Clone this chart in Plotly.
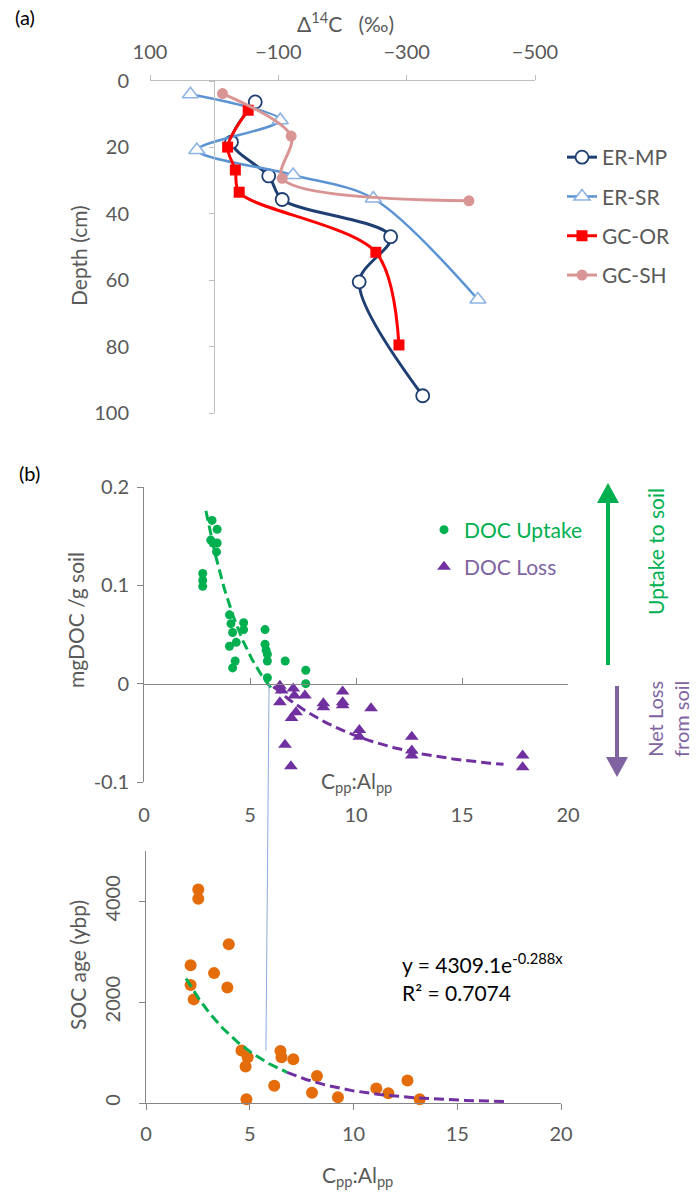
import numpy as np
import plotly.graph_objects as go

W, H = 698, 1194
FONT = "Lato"
TXT = "#595959"
AX_LIGHT = "#BFBFBF"
AX_DARK = "#868686"
GREEN = "#00B050"
PURPLE = "#7030A0"
PURPLE_TXT = "#8064A2"
ORANGE = "#E46C0A"

# ---------------- (a) radiocarbon depth profiles ----------------
er_mp_d14c = [-64, -27, -85, -106, -275, -226, -325]
er_mp_depth = [6.3, 18.4, 28.6, 35.7, 46.9, 60.5, 94.8]
er_sr_d14c = [37, -103, 27, -123, -248, -411]
er_sr_depth = [4.0, 11.8, 20.8, 28.3, 35.4, 65.8]
gc_or_d14c = [-53, -21, -33, -39, -252, -288]
gc_or_depth = [8.8, 19.9, 26.8, 33.5, 51.6, 79.5]
gc_sh_d14c = [-13, -120, -106, -397]
gc_sh_depth = [3.8, 16.6, 29.3, 36.1]
d14c_ticks = [100, -100, -300, -500]
depth_ticks = [0, 20, 40, 60, 80, 100]

# ---------------- (b) DOC exchange vs Cpp:Alpp ----------------
uptake_ratio = [3.21, 3.45, 3.15, 3.26, 3.45, 3.42, 2.77, 2.77, 2.77, 4.03, 4.10,
                4.18, 4.35, 4.03, 4.30, 4.18, 4.70, 4.70, 5.71, 5.71, 5.76, 5.82,
                5.82, 5.82, 6.66, 7.63, 7.63]
uptake_doc = [0.166, 0.157, 0.146, 0.143, 0.143, 0.134, 0.112, 0.105, 0.099, 0.070,
              0.061, 0.052, 0.042, 0.038, 0.023, 0.016, 0.062, 0.055, 0.055, 0.040,
              0.034, 0.030, 0.023, 0.006, 0.023, 0.0136, 0.0]
loss_ratio = [6.41, 6.49, 6.41, 7.04, 7.09, 7.59, 6.96, 7.17, 6.65, 6.93, 8.46, 8.46,
              9.37, 9.37, 9.37, 10.71, 10.16, 10.16, 12.63, 12.63, 12.63, 17.86, 17.86]
loss_doc = [-0.002, -0.007, -0.019, -0.005, -0.012, -0.012, -0.035, -0.029, -0.062,
            -0.084, -0.020, -0.024, -0.008, -0.019, -0.022, -0.025, -0.047, -0.054,
            -0.054, -0.068, -0.073, -0.073, -0.085]
doc_ticks = [-0.1, 0, 0.1, 0.2]
doc_ticktext = ["-0.1", "0", "0.1", "0.2"]
ratio_ticks = [0, 5, 10, 15, 20]

# ---------------- (b) SOC age vs Cpp:Alpp ----------------
age_ratio = [2.52, 2.52, 3.99, 2.15, 2.15, 2.30, 3.28, 3.92, 4.60, 4.90, 4.80, 4.84,
             6.48, 6.53, 7.10, 6.18, 8.24, 8.00, 9.25, 11.10, 11.68, 12.60, 13.19]
age_ybp = [4237, 4053, 3150, 2735, 2340, 2056, 2577, 2293, 1041, 909, 725, 75,
           1030, 909, 866, 340, 534, 204, 112, 290, 194, 448, 75]
age_ticks = [0, 2000, 4000]

# trend curves y = c + a*exp(-k*x)
UPTAKE_TREND = dict(a=0.93, k=0.47, c=-0.06, x0=2.92, x1=6.0)
LOSS_TREND = dict(a=0.333, k=0.22, c=-0.09, x0=6.1, x1=16.96)
# exponential fit of SOC age
SOC_A, SOC_K, SOC_R2 = 4309.1, 0.288, 0.7074
SOC_X0, SOC_SPLIT, SOC_X1 = 1.93, 6.8, 17.3

# link between uptake/loss threshold and the age curve
LINK_TOP = (5.9, 0.0)
LINK_BOTTOM = (5.78, 1044)

# ---------------- layout boxes (pixels) ----------------
A_X, A_Y = (150, 535), (81, 413)
B_X, B_Y = (144, 568), (487, 782)
C_X, C_Y = (146, 561), (851, 1103)
A_XR, A_YR = [100, -500], [100, 0]
B_XR, B_YR = [0, 20], [-0.1, 0.2]
C_XR, C_YR = [0, 20], [0, 5000]


def dom_x(b):
    return [b[0] / W, b[1] / W]


def dom_y(b):
    return [1 - b[1] / H, 1 - b[0] / H]


def paper_x(v, box, rng):
    f = (v - rng[0]) / (rng[1] - rng[0])
    return (box[0] + f * (box[1] - box[0])) / W


def paper_y(v, box, rng):
    f = (v - rng[0]) / (rng[1] - rng[0])
    return 1 - (box[1] - f * (box[1] - box[0])) / H


def px(xp, yp):
    return xp / W, 1 - yp / H


def trend(p, n=120):
    xs = np.linspace(p["x0"], p["x1"], n)
    return xs, p["c"] + p["a"] * np.exp(-p["k"] * xs)


fig = go.Figure()

# ---- panel (a) ----
profiles = [
    ("ER-MP", er_mp_d14c, er_mp_depth, dict(color="#1F3F73", width=3),
     dict(symbol="circle", size=13, color="white", line=dict(color="#1F3F73", width=1.8))),
    ("ER-SR", er_sr_d14c, er_sr_depth, dict(color="#5B93D3", width=2.5),
     dict(symbol="triangle-up", size=14, color="white", line=dict(color="#8DB3E2", width=1.6))),
    ("GC-OR", gc_or_d14c, gc_or_depth, dict(color="#FF0000", width=3),
     dict(symbol="square", size=11, color="#FF0000")),
    ("GC-SH", gc_sh_d14c, gc_sh_depth, dict(color="#D99594", width=3),
     dict(symbol="circle", size=11, color="#D99594")),
]
for name, xs, ys, ln, mk in profiles:
    fig.add_trace(go.Scatter(
        x=xs, y=ys, name=name, mode="lines+markers",
        line=dict(shape="spline", smoothing=0.9, **ln), marker=mk,
        xaxis="x", yaxis="y", legend="legend", legendgroup=name, cliponaxis=False))

# axis line through zero with depth ticks
fig.add_trace(go.Scatter(x=[None], y=[None], xaxis="x", yaxis="y2",
                         showlegend=False, hoverinfo="skip"))

# ---- panel (b) DOC ----
tx, ty = trend(UPTAKE_TREND)
fig.add_trace(go.Scatter(x=tx, y=ty, mode="lines", showlegend=False, hoverinfo="skip",
                         line=dict(color=GREEN, width=3, dash="10px,5px"),
                         xaxis="x2", yaxis="y3"))
tx, ty = trend(LOSS_TREND)
fig.add_trace(go.Scatter(x=tx, y=ty, mode="lines", showlegend=False, hoverinfo="skip",
                         line=dict(color=PURPLE, width=3, dash="10px,5px"),
                         xaxis="x2", yaxis="y3"))
fig.add_trace(go.Scatter(x=uptake_ratio, y=uptake_doc, mode="markers", name="DOC Uptake",
                         marker=dict(symbol="circle", size=9, color=GREEN),
                         xaxis="x2", yaxis="y3", legend="legend2", cliponaxis=False))
fig.add_trace(go.Scatter(x=loss_ratio, y=loss_doc, mode="markers", name="DOC Loss",
                         marker=dict(symbol="triangle-up", size=12, color=PURPLE),
                         xaxis="x2", yaxis="y3", legend="legend3", cliponaxis=False))
fig.add_trace(go.Scatter(x=[None], y=[None], xaxis="x3", yaxis="y3",
                         showlegend=False, hoverinfo="skip"))

# ---- panel (b) SOC age ----
fig.add_trace(go.Scatter(x=age_ratio, y=age_ybp, mode="markers", showlegend=False,
                         marker=dict(symbol="circle", size=12, color=ORANGE),
                         xaxis="x4", yaxis="y4", cliponaxis=False))
for lo, hi, col in [(SOC_X0, SOC_SPLIT, GREEN), (SOC_SPLIT, SOC_X1, PURPLE)]:
    xs = np.linspace(lo, hi, 100)
    fig.add_trace(go.Scatter(x=xs, y=SOC_A * np.exp(-SOC_K * xs), mode="lines",
                             showlegend=False, hoverinfo="skip", cliponaxis=False,
                             line=dict(color=col, width=3, dash="10px,5px"),
                             xaxis="x4", yaxis="y4"))

tickfont = dict(family=FONT, size=20, color=TXT)
base = dict(showgrid=False, zeroline=False, automargin=False, tickfont=tickfont)

fig.update_layout(
    width=W, height=H, autosize=False,
    margin=dict(l=0, r=0, t=0, b=0),
    paper_bgcolor="white", plot_bgcolor="rgba(0,0,0,0)",
    font=dict(family=FONT, color=TXT),
    xaxis=dict(domain=dom_x(A_X), range=A_XR, anchor="y", side="top",
               showline=True, linecolor=AX_LIGHT, linewidth=1,
               ticks="outside", ticklen=5, tickcolor=AX_LIGHT,
               tickvals=d14c_ticks, ticklabelstandoff=8, **base),
    yaxis=dict(domain=dom_y(A_Y), range=A_YR, anchor="x", showline=False, ticks="",
               tickvals=depth_ticks, ticklabelstandoff=20, **base),
    yaxis2=dict(overlaying="y", anchor="free", side="left",
                position=paper_x(0, A_X, A_XR), range=A_YR,
                showline=True, linecolor=AX_LIGHT, linewidth=1,
                ticks="outside", ticklen=5, tickcolor=AX_LIGHT,
                tickvals=depth_ticks, showticklabels=False,
                showgrid=False, zeroline=False),
    xaxis2=dict(domain=dom_x(B_X), range=B_XR, anchor="y3", showline=False, ticks="",
                tickvals=ratio_ticks, ticklabelstandoff=19, **base),
    yaxis3=dict(domain=dom_y(B_Y), range=B_YR, anchor="x2",
                showline=True, linecolor=AX_DARK, linewidth=1,
                ticks="outside", ticklen=6, tickcolor=AX_DARK,
                tickvals=doc_ticks, ticktext=doc_ticktext, ticklabelstandoff=4, **base),
    xaxis3=dict(overlaying="x2", anchor="free", side="bottom",
                position=paper_y(0, B_Y, B_YR), range=B_XR,
                showline=True, linecolor=AX_DARK, linewidth=1,
                ticks="inside", ticklen=6, tickcolor=AX_DARK,
                tickvals=ratio_ticks[1:], showticklabels=False,
                showgrid=False, zeroline=False),
    xaxis4=dict(domain=dom_x(C_X), range=C_XR, anchor="y4",
                showline=True, linecolor=AX_DARK, linewidth=1,
                ticks="outside", ticklen=6, tickcolor=AX_DARK,
                tickvals=ratio_ticks, ticklabelstandoff=7, **base),
    yaxis4=dict(domain=dom_y(C_Y), range=C_YR, anchor="x4",
                showline=True, linecolor=AX_DARK, linewidth=1,
                ticks="outside", ticklen=6, tickcolor=AX_DARK,
                tickvals=age_ticks, tickangle=-90, ticklabelstandoff=11, **base),
    legend=dict(x=562 / W, y=1 - 137 / H, xanchor="left", yanchor="top",
                bgcolor="rgba(0,0,0,0)", traceorder="grouped", tracegroupgap=9,
                font=dict(family=FONT, size=21, color=TXT)),
    legend2=dict(x=424 / W, y=1 - 530 / H, xanchor="left", yanchor="middle",
                 bgcolor="rgba(0,0,0,0)", font=dict(family=FONT, size=21, color=GREEN)),
    legend3=dict(x=424 / W, y=1 - 567 / H, xanchor="left", yanchor="middle",
                 bgcolor="rgba(0,0,0,0)", font=dict(family=FONT, size=21, color=PURPLE_TXT)),
)

# connector from uptake/loss threshold down to the age curve
fig.add_shape(type="line", xref="paper", yref="paper",
              x0=paper_x(LINK_TOP[0], B_X, B_XR), y0=paper_y(LINK_TOP[1], B_Y, B_YR),
              x1=paper_x(LINK_BOTTOM[0], C_X, C_XR), y1=paper_y(LINK_BOTTOM[1], C_Y, C_YR),
              line=dict(color="#8EA9DB", width=1))


def arrow(x_px, tail_px, tip_px, color, shaft=4, head_w=22, head_l=20):
    d = 1 if tip_px > tail_px else -1
    base_px = tip_px - d * head_l
    fig.add_shape(type="rect", xref="paper", yref="paper",
                  x0=(x_px - shaft / 2) / W, x1=(x_px + shaft / 2) / W,
                  y0=1 - tail_px / H, y1=1 - base_px / H,
                  fillcolor=color, line_width=0)
    xl, yb = px(x_px - head_w / 2, base_px)
    xr, _ = px(x_px + head_w / 2, base_px)
    xt, yt = px(x_px, tip_px)
    fig.add_shape(type="path", xref="paper", yref="paper",
                  path=f"M{xl},{yb} L{xr},{yb} L{xt},{yt} Z",
                  fillcolor=color, line_width=0)


arrow(608, 665, 483, GREEN)
arrow(617, 686, 777, PURPLE_TXT)


def note(text, xp, yp, size=21, color=TXT, xanchor="center", angle=0):
    x, y = px(xp, yp)
    fig.add_annotation(text=text, x=x, y=y, xref="paper", yref="paper",
                       xanchor=xanchor, yanchor="middle", showarrow=False,
                       textangle=angle, font=dict(family=FONT, size=size, color=color))


# panel labels and axis titles
note("(a)", 25, 17, size=20, color="#000000")
note("(b)", 29, 473, size=20, color="#000000")
note("Δ<sup>14</sup>C\u00a0\u00a0\u00a0(‰)", 345, 22)
note("Depth (cm)", 78, 256, angle=-90)
note("mgDOC /g soil", 75, 620, angle=-90)
note("SOC age (ybp)", 77, 965, angle=-90)
note("C<sub>pp</sub>:Al<sub>pp</sub>", 357, 1176)
note("C<sub>pp</sub>:Al<sub>pp</sub>", 356, 782)

# direction labels beside the arrows
note("Uptake to soil", 655, 552, size=21, color=GREEN, angle=-90)
note("Net Loss<br>from soil", 668, 719, size=20, color=PURPLE_TXT, angle=-90)

# fitted equation for SOC age
note(f"y = {SOC_A}e<sup>-{SOC_K}x</sup>", 400, 963, color="#000000", xanchor="left")
note(f"R² = {SOC_R2}", 400, 992, color="#000000", xanchor="left")

fig.write_html("out.html")
